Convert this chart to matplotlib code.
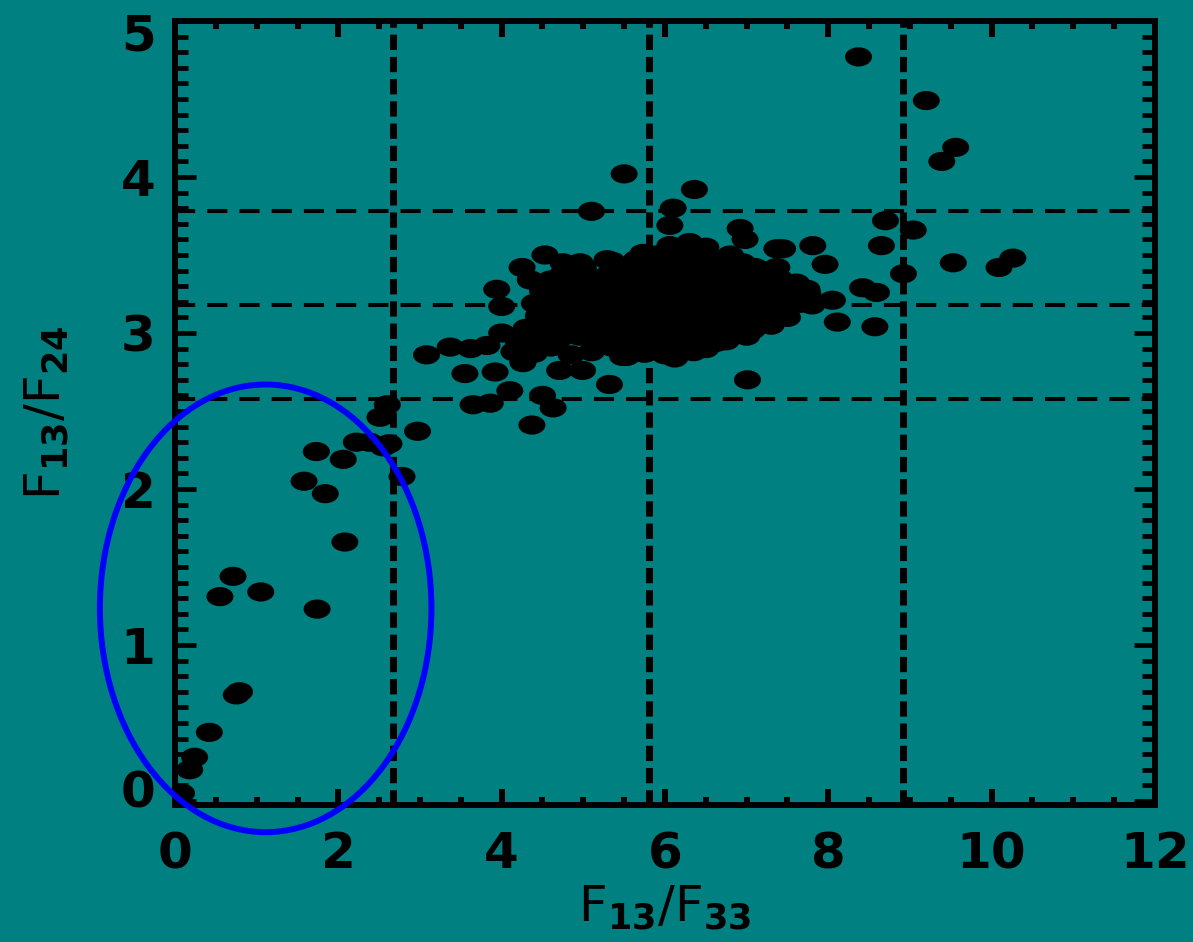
import matplotlib
matplotlib.use('Agg')
import matplotlib.pyplot as plt
from matplotlib.patches import Ellipse
from matplotlib.path import Path
from matplotlib.transforms import Affine2D, ScaledTranslation

TEAL = '#008080'

# points outside the dense clump
f13_f33 = [0.08, 0.18, 0.24, 0.42, 0.75, 0.79, 0.55, 0.71, 1.05, 1.74, 2.08, 1.58, 1.84, 1.73,
           2.06, 2.22, 2.38, 2.55, 2.62, 2.51, 2.60, 2.78, 2.97,
           3.08, 3.37, 3.55, 3.62, 3.65, 3.82, 3.86, 3.92, 4.00, 4.10, 3.94, 4.00, 4.25, 4.35,
           4.37, 4.50, 4.63, 4.53, 4.75, 4.96, 5.06, 5.29, 5.73, 5.32, 5.10, 5.50, 4.26, 4.71,
           4.99, 5.48, 4.15, 4.35,
           6.36, 6.10, 6.06, 6.92, 6.98, 6.06, 7.37, 7.81, 7.96, 7.37, 7.44, 8.05, 8.11, 7.01,
           6.12, 5.53, 6.63, 7.07, 7.74, 7.61, 8.37, 9.20, 9.56, 9.39, 8.70, 9.04, 8.65, 9.53,
           10.26, 10.09, 8.92, 8.42, 8.59, 8.57, 7.50, 7.80]
f13_f24 = [0.05, 0.20, 0.28, 0.44, 0.68, 0.70, 1.31, 1.44, 1.34, 1.23, 1.66, 2.05, 1.97, 2.24,
           2.19, 2.30, 2.30, 2.27, 2.29, 2.46, 2.54, 2.08, 2.37,
           2.86, 2.91, 2.74, 2.90, 2.54, 2.92, 2.55, 2.75, 3.00, 2.63, 3.28, 3.17, 3.42, 3.34,
           2.41, 2.60, 2.52, 3.50, 3.45, 3.45, 3.31, 3.47, 3.51, 2.67, 3.78, 4.02, 2.81, 2.76,
           2.76, 2.85, 2.88, 2.95,
           3.92, 3.80, 3.69, 3.67, 3.60, 3.56, 3.54, 3.56, 3.44, 3.42, 3.54, 3.21, 3.07, 2.70,
           2.84, 2.85, 2.94, 3.02, 3.28, 3.32, 4.77, 4.49, 4.19, 4.10, 3.72, 3.66, 3.56, 3.45,
           3.48, 3.42, 3.38, 3.29, 3.26, 3.04, 3.10, 3.18]

# dense clump around F13/F33 ~ 6
clump_x = [5.90, 6.20, 6.50, 6.80,
           5.00, 5.50, 5.80, 6.10, 6.35, 6.60, 6.85, 7.10,
           4.60, 4.85, 5.15, 5.40, 5.65, 5.90, 6.15, 6.40, 6.65, 6.90, 7.15, 7.40,
           4.50, 4.75, 5.00, 5.25, 5.50, 5.75, 6.00, 6.25, 6.50, 6.75, 7.00, 7.25, 7.50, 7.75,
           4.40, 4.65, 4.90, 5.15, 5.40, 5.65, 5.90, 6.15, 6.40, 6.65, 6.90, 7.15, 7.40, 7.65,
           4.45, 4.70, 4.95, 5.20, 5.45, 5.70, 5.95, 6.20, 6.45, 6.70, 6.95, 7.20,
           4.30, 4.55, 4.80, 5.05, 5.30, 5.55, 5.80, 6.05, 6.30, 6.55, 6.80,
           4.20, 4.70, 5.20, 5.45, 5.70, 5.95, 6.20, 6.45,
           4.40, 4.85, 5.10, 5.75, 6.00, 6.35,
           5.35, 5.65, 6.05, 6.35, 6.65, 6.95,
           4.75, 5.00, 5.30, 5.55, 5.80, 6.05, 6.30, 6.55, 6.80, 7.05, 7.30,
           4.70, 4.95, 5.25, 5.50, 5.75, 6.00, 6.30, 6.55, 6.80, 7.05, 7.30, 7.60,
           4.55, 4.80, 5.05, 5.30, 5.55, 5.80, 6.05, 6.30, 6.55, 6.80, 7.05, 7.30, 7.55,
           4.55, 4.80, 5.05, 5.30, 5.55, 5.80, 6.05, 6.30, 6.55, 6.80, 7.05, 7.30,
           4.60, 4.85, 5.10, 5.35, 5.60, 5.85, 6.10, 6.35, 6.60, 6.85, 7.10,
           4.45, 4.95, 5.20, 5.45, 5.70, 5.95, 6.20, 6.45, 6.70,
           4.60, 5.35, 5.60, 5.85, 6.10, 6.50,
           7.30, 7.45, 7.60, 7.00, 6.75, 7.20, 6.50, 6.30]
clump_y = [3.50, 3.52, 3.48, 3.50,
           3.42, 3.40, 3.44, 3.43, 3.41, 3.44, 3.40, 3.42,
           3.34, 3.36, 3.33, 3.35, 3.37, 3.34, 3.36, 3.35, 3.33, 3.36, 3.34, 3.35,
           3.27, 3.26, 3.28, 3.27, 3.25, 3.28, 3.27, 3.26, 3.28, 3.27, 3.25, 3.28, 3.27, 3.25,
           3.19, 3.20, 3.18, 3.19, 3.21, 3.18, 3.20, 3.19, 3.18, 3.21, 3.19, 3.20, 3.18, 3.19,
           3.11, 3.12, 3.10, 3.11, 3.13, 3.10, 3.12, 3.11, 3.10, 3.12, 3.11, 3.13,
           3.03, 3.04, 3.02, 3.03, 3.05, 3.02, 3.04, 3.03, 3.02, 3.04, 3.03,
           2.95, 2.96, 2.94, 2.95, 2.97, 2.94, 2.96, 2.95,
           2.87, 2.86, 2.88, 2.87, 2.86, 2.88,
           3.46, 3.47, 3.45, 3.47, 3.46, 3.45,
           3.38, 3.39, 3.37, 3.38, 3.39, 3.37, 3.38, 3.39, 3.37, 3.38, 3.37,
           3.31, 3.30, 3.32, 3.31, 3.30, 3.31, 3.32, 3.30, 3.31, 3.32, 3.30, 3.31,
           3.23, 3.22, 3.24, 3.23, 3.22, 3.24, 3.23, 3.22, 3.24, 3.23, 3.22, 3.24, 3.23,
           3.15, 3.14, 3.16, 3.15, 3.14, 3.16, 3.15, 3.14, 3.16, 3.15, 3.14, 3.16,
           3.07, 3.06, 3.08, 3.07, 3.06, 3.08, 3.07, 3.06, 3.08, 3.07, 3.08,
           2.99, 2.98, 3.00, 2.99, 2.98, 3.00, 2.99, 2.98, 2.99,
           2.91, 2.91, 2.90, 2.92, 2.91, 2.90,
           3.05, 3.15, 3.25, 2.98, 2.95, 3.40, 3.55, 3.58]

v_cuts = [2.67, 5.80, 8.92]
h_cuts = [2.58, 3.18, 3.78]

plt.rcParams['font.family'] = 'DejaVu Sans'
plt.rcParams['font.weight'] = 'bold'
plt.rcParams['mathtext.fontset'] = 'dejavusans'
plt.rcParams['mathtext.default'] = 'bf'

fig = plt.figure(figsize=(11.93, 9.42), dpi=100, facecolor=TEAL)
ax = fig.add_axes([0.1467, 0.1454, 0.8214, 0.8323])
ax.set_facecolor(TEAL)

for xv in v_cuts:
    ax.axvline(xv, color='black', lw=5, dashes=(2.2, 1.0), zorder=1)
for yv in h_cuts:
    ax.axhline(yv, color='black', lw=2.9, dashes=(5, 3), zorder=1)

dot = Affine2D().scale(1.0, 0.71).transform_path(Path.unit_circle())
ax.scatter(f13_f33 + clump_x, f13_f24 + clump_y, s=378, marker=dot, color='black',
           edgecolors='none', zorder=2)

ring = Ellipse((1.11, 1.235), 4.06, 2.87, fill=False, edgecolor='#0000ff', lw=4.3,
               clip_on=False, zorder=3)
ax.add_patch(ring)

ax.set_xlim(0, 12)
ax.set_ylim(-0.026, 5.0)
ax.set_xticks([0, 2, 4, 6, 8, 10, 12])
ax.set_yticks([0, 1, 2, 3, 4, 5])
ax.set_xticks([i * 0.5 for i in range(25)], minor=True)
ax.set_yticks([i * 0.1 for i in range(51)], minor=True)

for sp in ax.spines.values():
    sp.set_linewidth(4.3)
ax.tick_params(which='both', direction='in', top=True, right=True, labelsize=36,
               colors='black')
ax.tick_params(axis='x', which='major', length=11.5, width=4.3, pad=18)
ax.tick_params(axis='x', which='minor', length=6, width=4.3)
ax.tick_params(axis='y', which='major', length=15, width=3.4, pad=14)
ax.tick_params(axis='y', which='minor', length=9.4, width=3.4)

# end labels sit a little inside the axis range, as in the original
yt = ax.yaxis.get_major_ticks()
lab0 = yt[0].label1
lab0.set_transform(lab0.get_transform() + ScaledTranslation(0, 0.12, fig.dpi_scale_trans))
lab5 = yt[-1].label1
lab5.set_transform(lab5.get_transform() + ScaledTranslation(0, -0.10, fig.dpi_scale_trans))

ax.set_xlabel(r'F$_{13}$/F$_{33}$', fontsize=36, labelpad=4)
ax.set_ylabel(r'F$_{13}$/F$_{24}$', fontsize=36, labelpad=36)

plt.savefig('out.png', dpi=100, facecolor=TEAL)
